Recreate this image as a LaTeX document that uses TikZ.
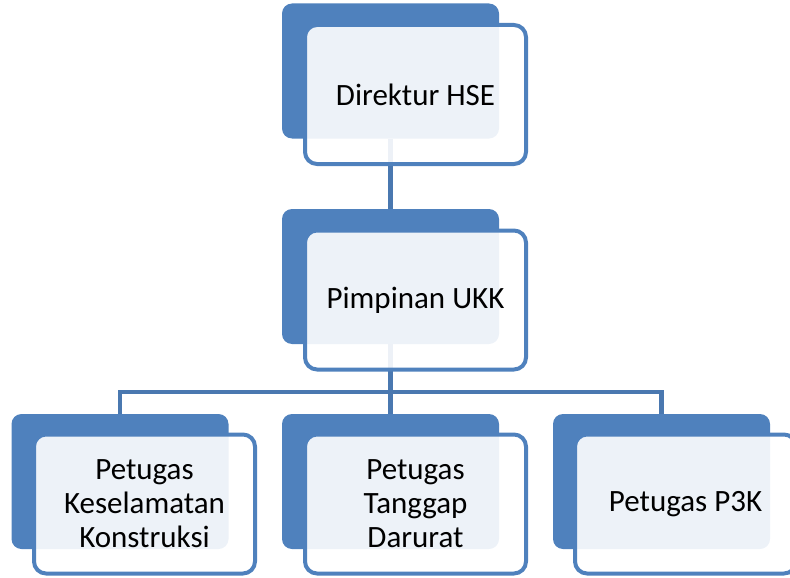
\documentclass[tikz,border=0pt]{standalone}
\usepackage{fontspec}
\setmainfont{Carlito}
\definecolor{darkblue}{HTML}{4F81BD}
\definecolor{linkblue}{HTML}{4A78B0}
\begin{document}
\begin{tikzpicture}[x=1pt,y=-1pt,
  backbox/.style={draw=none,fill=darkblue,rounded corners=10pt,minimum width=217pt,minimum height=135pt,inner sep=0pt,outer sep=0pt},
  frontbox/.style={draw=darkblue,line width=4pt,fill=white,fill opacity=0.9,text opacity=1,rounded corners=12pt,minimum width=221pt,minimum height=139pt,inner sep=0pt,outer sep=0pt,align=center,font=\fontsize{31}{34}\selectfont},
  link/.style={draw=linkblue,line width=4.5pt}]
\useasboundingbox (0,0) rectangle (790,578);
% back boxes
\node[backbox] (d0) at (390.5,71) {};
\node[backbox] (d1) at (390.5,276.5) {};
\node[backbox] (d2) at (120,481.5) {};
\node[backbox] (d3) at (390.5,481.5) {};
\node[backbox] (d4) at (661.5,481.5) {};
% connectors
\coordinate (bar) at (391,392);
\draw[link] (d0.south) -- (d1.north);
\draw[link] (d1.south) -- (d3.north);
\draw[link] (d2.north) -- (d2.north |- bar) -- (d4.north |- bar) -- (d4.north);
% front boxes
\node[frontbox] (f0) at (415.5,94.5) {Direktur HSE};
\node[frontbox] (f1) at (415.5,300) {Pimpinan UKK};
\node[frontbox] (f2) at (144.5,504) {Petugas\\Keselamatan\\Konstruksi};
\node[frontbox] (f3) at (415.5,504) {Petugas\\Tanggap\\Darurat};
\node[frontbox] (f4) at (685.5,504) {Petugas P3K};
\end{tikzpicture}
\end{document}
